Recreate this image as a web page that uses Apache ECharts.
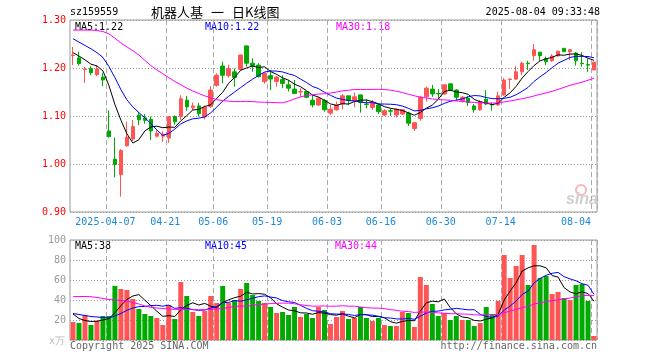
<!DOCTYPE html>
<html><head><meta charset="utf-8">
<script src="https://cdn.jsdelivr.net/npm/echarts@6/dist/echarts.min.js"></script>
<style>html,body{margin:0;padding:0;background:#fff}#c{width:660px;height:360px}</style>
</head><body><div id="c"></div>
<script>
const dates = ['2025-03-27','2025-03-28','2025-03-31','2025-04-01','2025-04-02','2025-04-03','2025-04-07','2025-04-08','2025-04-09','2025-04-10','2025-04-11','2025-04-14','2025-04-15','2025-04-16','2025-04-17','2025-04-18','2025-04-21','2025-04-22','2025-04-23','2025-04-24','2025-04-25','2025-04-28','2025-04-29','2025-04-30','2025-05-06','2025-05-07','2025-05-08','2025-05-09','2025-05-12','2025-05-13','2025-05-14','2025-05-15','2025-05-16','2025-05-19','2025-05-20','2025-05-21','2025-05-22','2025-05-23','2025-05-26','2025-05-27','2025-05-28','2025-05-29','2025-05-30','2025-06-03','2025-06-04','2025-06-05','2025-06-06','2025-06-09','2025-06-10','2025-06-11','2025-06-12','2025-06-13','2025-06-16','2025-06-17','2025-06-18','2025-06-19','2025-06-20','2025-06-23','2025-06-24','2025-06-25','2025-06-26','2025-06-27','2025-06-30','2025-07-01','2025-07-02','2025-07-03','2025-07-04','2025-07-07','2025-07-08','2025-07-09','2025-07-10','2025-07-11','2025-07-14','2025-07-15','2025-07-16','2025-07-17','2025-07-18','2025-07-21','2025-07-22','2025-07-23','2025-07-24','2025-07-25','2025-07-28','2025-07-29','2025-07-30','2025-07-31','2025-08-01','2025-08-04'];
const opens  = [1.226,1.221,1.197,1.199,1.186,1.181,1.069,1.010,0.978,1.038,1.052,1.102,1.096,1.093,1.058,1.058,1.054,1.099,1.099,1.133,1.117,1.121,1.098,1.120,1.164,1.204,1.184,1.192,1.197,1.246,1.210,1.206,1.172,1.184,1.172,1.176,1.165,1.156,1.150,1.151,1.133,1.123,1.132,1.106,1.113,1.125,1.142,1.132,1.144,1.125,1.118,1.123,1.102,1.111,1.102,1.104,1.106,1.074,1.095,1.140,1.156,1.147,1.146,1.167,1.154,1.132,1.137,1.121,1.113,1.135,1.124,1.123,1.144,1.176,1.177,1.192,1.210,1.226,1.233,1.220,1.215,1.225,1.241,1.234,1.231,1.210,1.207,1.196];
const closes = [1.227,1.209,1.198,1.190,1.198,1.175,1.057,0.999,1.028,1.056,1.078,1.092,1.091,1.069,1.064,1.062,1.099,1.088,1.136,1.119,1.121,1.105,1.118,1.154,1.185,1.185,1.199,1.180,1.227,1.210,1.205,1.182,1.189,1.177,1.181,1.168,1.158,1.147,1.151,1.139,1.123,1.137,1.113,1.114,1.123,1.142,1.132,1.140,1.128,1.124,1.126,1.109,1.111,1.110,1.114,1.113,1.085,1.086,1.139,1.158,1.146,1.146,1.165,1.154,1.139,1.139,1.128,1.113,1.130,1.125,1.123,1.142,1.175,1.177,1.192,1.210,1.209,1.238,1.226,1.213,1.225,1.235,1.234,1.238,1.215,1.209,1.206,1.212];
const highs  = [1.244,1.234,1.202,1.204,1.206,1.190,1.112,1.055,1.031,1.088,1.092,1.108,1.104,1.099,1.070,1.068,1.100,1.101,1.143,1.142,1.128,1.127,1.122,1.162,1.189,1.213,1.207,1.199,1.228,1.247,1.220,1.210,1.192,1.196,1.183,1.185,1.175,1.175,1.158,1.151,1.144,1.140,1.135,1.123,1.130,1.146,1.142,1.149,1.144,1.135,1.133,1.125,1.114,1.116,1.116,1.114,1.109,1.088,1.142,1.161,1.165,1.156,1.165,1.167,1.156,1.142,1.142,1.125,1.133,1.154,1.128,1.151,1.179,1.178,1.204,1.213,1.215,1.250,1.233,1.224,1.229,1.236,1.241,1.238,1.233,1.233,1.220,1.213];
const lows   = [1.206,1.205,1.169,1.185,1.183,1.162,1.055,0.972,0.932,1.036,1.048,1.081,1.084,1.050,1.055,1.046,1.044,1.082,1.092,1.111,1.112,1.099,1.093,1.117,1.161,1.168,1.180,1.161,1.196,1.203,1.192,1.180,1.167,1.154,1.161,1.158,1.151,1.147,1.139,1.137,1.118,1.121,1.109,1.102,1.111,1.114,1.123,1.118,1.107,1.116,1.113,1.104,1.100,1.100,1.097,1.102,1.079,1.069,1.090,1.130,1.140,1.135,1.144,1.153,1.132,1.128,1.121,1.107,1.111,1.123,1.111,1.121,1.142,1.156,1.175,1.185,1.196,1.215,1.215,1.206,1.213,1.224,1.233,1.217,1.205,1.203,1.192,1.196];
const volumes = [18,17,25,15,19,24,24,54,51,50,41,31,26,24,22,15,35,21,58,44,28,24,29,44,37,54,37,40,51,57,45,39,37,33,27,28,25,33,23,26,22,33,30,16,23,29,21,22,33,22,19,22,15,14,14,28,27,13,63,55,36,24,27,20,24,20,20,14,17,33,26,39,85,62,74,85,55,95,62,64,46,48,42,40,55,56,39,4];
// moving-average values before enough history exists
const ma5Head  = [1.232,1.225,1.217,1.208];
const ma10Head = [1.261,1.254,1.247,1.240,1.232,1.222,1.203,1.180,1.155];
const ma30Head = [1.279,1.279,1.279,1.279,1.278,1.276,1.271,1.262,1.252,1.244,1.236,1.227,1.216,1.205,1.196,1.188,1.180,1.172,1.165,1.158,1.152,1.147,1.142,1.138,1.134,1.132,1.131,1.130,1.130];
const vma5Head  = [26,21.5,19.5,18.5];
const vma10Head = [26.5,25.5,24.5,23.5,23,22.5,22,24,26.5];
const vma30Head = [43.3,43.5,43.5,43.3,42.5,41.5,40.5,40,39.5,39,37.5,36,34,32.7,32,31.5,31,30.7,30.7,30.7,30.5,30.2,30.3,30.6,31,31.5,32.5,33.5,34];
const priceTicks = [0.90,1.00,1.10,1.20,1.30];
const volTicks = [0,20,40,60,80,100];
const labelDates = ['2025-04-07','2025-04-21','2025-05-06','2025-05-19','2025-06-03','2025-06-16','2025-06-30','2025-07-14','2025-08-04'];

function ma(vals, n, head) {
  return vals.map((v, i) => {
    if (i < n - 1) return head[i];
    let s = 0; for (let k = i - n + 1; k <= i; k++) s += vals[k];
    return s / n;
  });
}
const ma5 = ma(closes, 5, ma5Head), ma10 = ma(closes, 10, ma10Head), ma30 = ma(closes, 30, ma30Head);
const vma5 = ma(volumes, 5, vma5Head), vma10 = ma(volumes, 10, vma10Head), vma30 = ma(volumes, 30, vma30Head);
const last = a => a[a.length - 1];
const labelIdx = labelDates.map(d => dates.indexOf(d));
const RED = '#ff5555', GREEN = '#00aa00';
const MONO = '"DejaVu Sans Mono", monospace';

const chart = echarts.init(document.getElementById('c'), null, {renderer: 'canvas'});
const txt = (text, x, y, fill, opts) => Object.assign({type: 'text', silent: true, style: Object.assign({text, x, y, fill, font: '10px ' + MONO, align: 'left', verticalAlign: 'middle'}, opts || {})});

chart.setOption({
  animation: false,
  backgroundColor: '#fff',
  grid: [
    {left: 70, top: 20, width: 527, height: 192, show: true, borderColor: '#999', borderWidth: 1, backgroundColor: 'transparent'},
    {left: 70, top: 240, width: 527, height: 100, show: true, borderColor: '#999', borderWidth: 1, backgroundColor: 'transparent'}
  ],
  xAxis: [0, 1].map(g => ({
    type: 'category', gridIndex: g, data: dates, boundaryGap: true,
    axisLine: {show: false}, axisTick: {show: false},
    splitLine: {show: true, interval: (i) => labelIdx.includes(i), lineStyle: {color: '#aaa', type: [5, 3], width: 1}},
    axisLabel: g === 0 ? {
      show: true, interval: (i) => labelIdx.includes(i), margin: 5,
      formatter: (v, i) => {
        const s = v === labelDates[0] ? v : v.slice(5);
        return v === last(labelDates) ? '{e|' + s + '}' : '{a|' + s + '}';
      },
      rich: {
        a: {color: '#1e88d8', fontFamily: MONO, fontSize: 10, padding: [0, 7, 0, 0]},
        e: {color: '#1e88d8', fontFamily: MONO, fontSize: 10, padding: [0, 36, 0, 0]}
      }
    } : {show: false}
  })),
  yAxis: [
    {type: 'value', gridIndex: 0, min: priceTicks[0], max: last(priceTicks), interval: 0.1,
     axisLine: {show: false}, axisTick: {show: false},
     axisLabel: {color: '#ff0000', fontFamily: MONO, fontSize: 10, margin: 4, formatter: v => v.toFixed(2)},
     splitLine: {show: true, lineStyle: {color: '#999', type: [1, 2]}}},
    {type: 'value', gridIndex: 1, min: volTicks[0], max: last(volTicks), interval: 20,
     axisLine: {show: false}, axisTick: {show: false},
     axisLabel: {color: '#999', fontFamily: MONO, fontSize: 10, margin: 4, formatter: v => v === 0 ? '' : String(v)},
     splitLine: {show: true, lineStyle: {color: '#999', type: [1, 2]}}}
  ],
  series: [
    {type: 'candlestick', xAxisIndex: 0, yAxisIndex: 0, barWidth: 4,
     data: dates.map((d, i) => [opens[i], closes[i], lows[i], highs[i]]),
     itemStyle: {color: RED, color0: GREEN, borderColor: RED, borderColor0: GREEN, borderWidth: 1}},
    {type: 'line', xAxisIndex: 0, yAxisIndex: 0, data: ma5, symbol: 'none', lineStyle: {color: '#000', width: 1}, z: 5},
    {type: 'line', xAxisIndex: 0, yAxisIndex: 0, data: ma10, symbol: 'none', lineStyle: {color: '#0000ff', width: 1}, z: 5},
    {type: 'line', xAxisIndex: 0, yAxisIndex: 0, data: ma30, symbol: 'none', lineStyle: {color: '#ff00ff', width: 1}, z: 5},
    {type: 'bar', xAxisIndex: 1, yAxisIndex: 1, barWidth: 5,
     data: volumes.map((v, i) => ({value: v, itemStyle: {color: closes[i] >= opens[i] ? RED : GREEN}}))},
    {type: 'line', xAxisIndex: 1, yAxisIndex: 1, data: vma5, symbol: 'none', lineStyle: {color: '#000', width: 1}, z: 5},
    {type: 'line', xAxisIndex: 1, yAxisIndex: 1, data: vma10, symbol: 'none', lineStyle: {color: '#0000ff', width: 1}, z: 5},
    {type: 'line', xAxisIndex: 1, yAxisIndex: 1, data: vma30, symbol: 'none', lineStyle: {color: '#ff00ff', width: 1}, z: 5}
  ],
  graphic: [
    txt('sz159559', 70, 12, '#000'),
    txt('机器人基', 151, 12, '#000', {font: '13px "Noto Sans CJK SC"'}),
    txt('一', 211, 12, '#000', {font: '13px "Noto Sans CJK SC"'}),
    txt('日K线图', 232, 12, '#000', {font: '13px "Noto Sans CJK SC"'}),
    txt('2025-08-04 09:33:48', 600, 12, '#000', {align: 'right'}),
    txt('MA5:' + last(ma5).toFixed(2), 75, 27, '#000'),
    txt('MA10:' + last(ma10).toFixed(2), 205, 27, '#0000ff'),
    txt('MA30:' + last(ma30).toFixed(2), 336, 27, '#ff00ff'),
    txt('MA5:' + Math.floor(last(vma5)), 75, 246, '#000'),
    txt('MA10:' + Math.floor(last(vma10)), 205, 246, '#0000ff'),
    txt('MA30:' + Math.floor(last(vma30)), 335, 246, '#ff00ff'),
    txt('x万', 49, 341, '#bbb'),
    txt('Copyright 2025 SINA.COM', 70, 346, '#666'),
    txt('http://finance.sina.com.cn', 597, 346, '#666', {align: 'right'}),
    {type: 'circle', silent: true, shape: {cx: 581, cy: 190, r: 5}, style: {fill: 'none', stroke: '#f3b8b8', lineWidth: 2}},
    txt('sina', 566, 200, '#cfcfcf', {font: 'italic bold 16px "Liberation Sans"'})
  ]
});
</script></body></html>
